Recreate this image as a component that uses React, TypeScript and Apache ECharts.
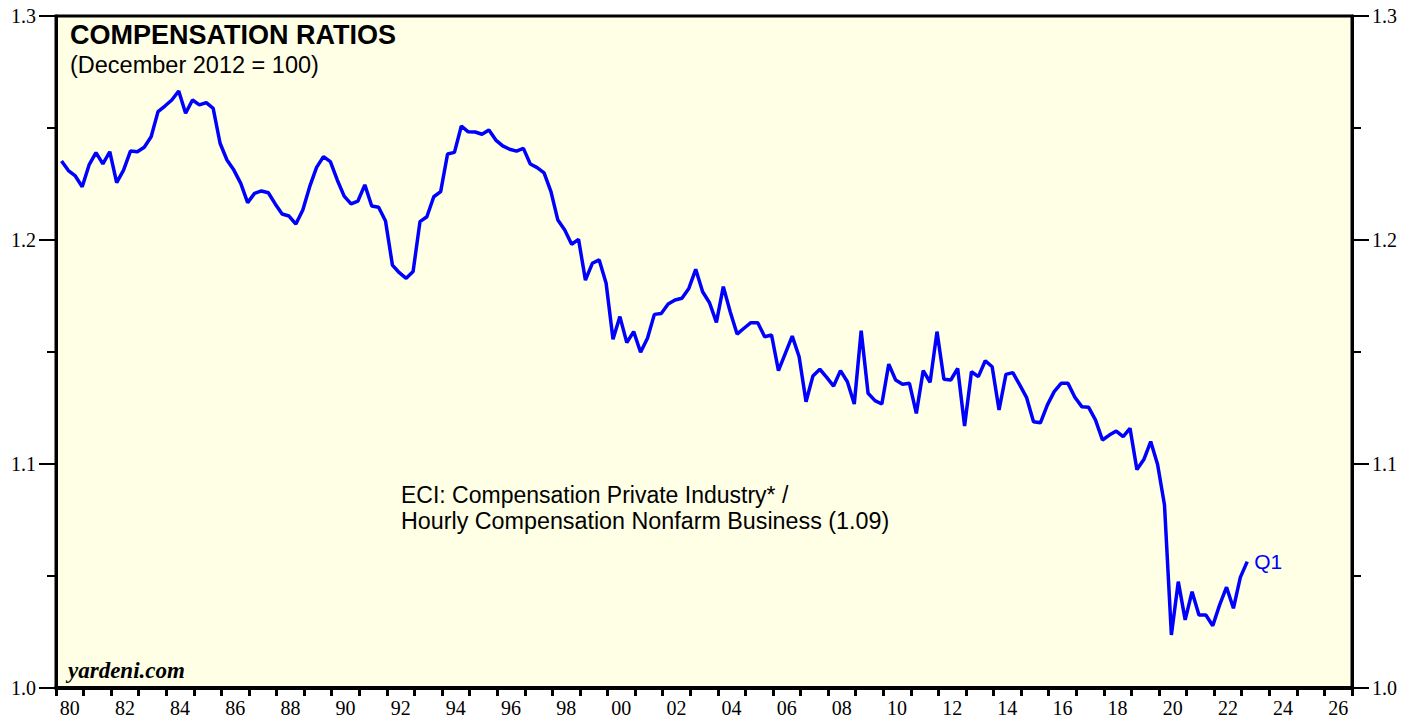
import React, { useEffect, useRef } from "react";
import * as echarts from "echarts";

// Quarterly ratio, 1980 Q1 .. 2023 Q1
const startYear = 1980;
const values1980s = [
  1.2353, 1.231, 1.2286, 1.2238, 1.2335, 1.239, 1.234, 1.2394, 1.2256, 1.2312,
  1.2397, 1.2394, 1.2414, 1.2461, 1.2573, 1.2598, 1.2625, 1.2665, 1.2566, 1.2625,
  1.2603, 1.2613, 1.2588, 1.2432, 1.2357, 1.2312, 1.2253, 1.2167, 1.2208, 1.2219,
  1.2211, 1.2161, 1.2116, 1.2107, 1.2071, 1.2134, 1.2238, 1.2324, 1.2372, 1.235,
];
const values1990s = [
  1.2268, 1.2196, 1.2161, 1.2174, 1.2246, 1.2152, 1.2146, 1.2085, 1.1888, 1.1854,
  1.1829, 1.1859, 1.2082, 1.2104, 1.2193, 1.2216, 1.2384, 1.2391, 1.2509, 1.2483,
  1.2482, 1.2472, 1.2491, 1.2446, 1.242, 1.2405, 1.2397, 1.2409, 1.2339, 1.2323,
  1.23, 1.2216, 1.2089, 1.2045, 1.1981, 1.2003, 1.1821, 1.1896, 1.1911, 1.1807,
];
const values2000s = [
  1.1557, 1.1658, 1.1542, 1.1591, 1.1499, 1.1561, 1.1668, 1.1672, 1.1714, 1.1732,
  1.174, 1.1784, 1.1869, 1.1769, 1.172, 1.1632, 1.1792, 1.168, 1.158, 1.1606,
  1.1631, 1.1631, 1.1568, 1.1576, 1.1417, 1.1494, 1.1571, 1.1479, 1.1278, 1.1393,
  1.1423, 1.1387, 1.1348, 1.1417, 1.1367, 1.1268, 1.1595, 1.1316, 1.1283, 1.1268,
];
const values2010s = [
  1.1446, 1.1375, 1.1356, 1.136, 1.1226, 1.1417, 1.1365, 1.1591, 1.1378, 1.1375,
  1.1427, 1.117, 1.1412, 1.139, 1.1461, 1.1434, 1.1241, 1.14, 1.1408, 1.1353,
  1.1296, 1.1189, 1.1184, 1.1263, 1.1323, 1.136, 1.136, 1.1298, 1.1256, 1.1253,
  1.1196, 1.1107, 1.1129, 1.1147, 1.1122, 1.1159, 1.0975, 1.102, 1.11, 1.0998,
];
const values2020s = [
  1.0817, 1.0237, 1.0475, 1.0304, 1.043, 1.0326, 1.0326, 1.0278, 1.0371, 1.045,
  1.0356, 1.0494, 1.0564,
];

const yearLabels: string[] = [];
for (let y = 1980; y <= 2026; y++) yearLabels.push(String(y % 100).padStart(2, "0"));

const yMin = 1.0;
const yMax = 1.3;
const yStep = 0.1;

const titleText = "COMPENSATION RATIOS";
const subtitleText = "(December 2012 = 100)";
const noteLine1 = "ECI: Compensation Private Industry* /";
const noteLine2 = "Hourly Compensation Nonfarm Business (1.09)";
const lastLabel = "Q1";
const sourceText = "yardeni.com";

export default function App() {
  const ref = useRef<HTMLDivElement>(null);

  useEffect(() => {
    document.body.style.margin = "0";
    if (!ref.current) return;
    const chart = echarts.init(ref.current, undefined, { renderer: "svg" });

    const all = [...values1980s, ...values1990s, ...values2000s, ...values2010s, ...values2020s];
    const data = all.map((v, i) => [startYear + i / 4 + 0.2, v]);
    const last = data[data.length - 1];

    const serif = "'Liberation Serif', 'Times New Roman', serif";
    const sans = "'Liberation Sans', Arial, sans-serif";

    const makeY = (position: string) => ({
      type: "value",
      position,
      min: yMin,
      max: yMax,
      interval: yStep,
      axisLine: { show: true, onZero: false, lineStyle: { color: "#000", width: 3 } },
      axisTick: { show: true, inside: false, length: 17, lineStyle: { color: "#000", width: 2 } },
      minorTick: { show: true, splitNumber: 2, length: 9, lineStyle: { color: "#000", width: 2 } },
      splitLine: { show: false },
      minorSplitLine: { show: false },
      axisLabel: {
        show: true,
        formatter: (v: number) => v.toFixed(1),
        color: "#000",
        fontFamily: serif,
        fontSize: 20,
        margin: 20,
      },
    });

    chart.setOption({
      animation: false,
      backgroundColor: "#fff",
      grid: {
        left: 56,
        right: 65,
        top: 16,
        bottom: 33,
        show: true,
        backgroundColor: "#FFFFE6",
        borderColor: "#000",
        borderWidth: 3,
        containLabel: false,
      },
      xAxis: [
        {
          type: "category",
          data: yearLabels,
          boundaryGap: true,
          position: "bottom",
          axisLine: { show: true, onZero: false, lineStyle: { color: "#000", width: 4 } },
          axisTick: { show: true, interval: 0, length: 8, lineStyle: { color: "#000", width: 3 } },
          axisLabel: {
            interval: 1,
            color: "#000",
            fontFamily: serif,
            fontSize: 20,
            margin: 10,
          },
          splitLine: { show: false },
        },
        {
          type: "value",
          min: 1980,
          max: 2027,
          show: false,
        },
      ],
      yAxis: [makeY("left"), makeY("right")],
      series: [
        {
          type: "line",
          xAxisIndex: 1,
          yAxisIndex: 0,
          data,
          showSymbol: false,
          lineStyle: { color: "#0000FF", width: 3.5 },
          itemStyle: { color: "#0000FF" },
          markPoint: {
            symbol: "circle",
            symbolSize: 0,
            data: [{ coord: last, value: lastLabel }],
            label: {
              show: true,
              formatter: lastLabel,
              position: "right",
              offset: [2, 0],
              color: "#0000FF",
              fontFamily: sans,
              fontSize: 21,
            },
          },
        },
      ],
      graphic: [
        {
          type: "text",
          left: 70,
          top: 21,
          style: { text: titleText, font: `bold 27px ${sans}`, fill: "#000" },
        },
        {
          type: "text",
          left: 70,
          top: 53,
          style: { text: subtitleText, font: `23.5px ${sans}`, fill: "#000" },
        },
        {
          type: "text",
          left: 401,
          top: 483,
          style: { text: noteLine1, font: `23px ${sans}`, fill: "#000" },
        },
        {
          type: "text",
          left: 401,
          top: 509,
          style: { text: noteLine2, font: `23.3px ${sans}`, fill: "#000" },
        },
        {
          type: "text",
          left: 68,
          top: 659,
          style: { text: sourceText, font: `italic bold 23px ${serif}`, fill: "#000" },
        },
      ],
    });

    return () => chart.dispose();
  }, []);

  return <div ref={ref} style={{ width: 1417, height: 721 }} />;
}
